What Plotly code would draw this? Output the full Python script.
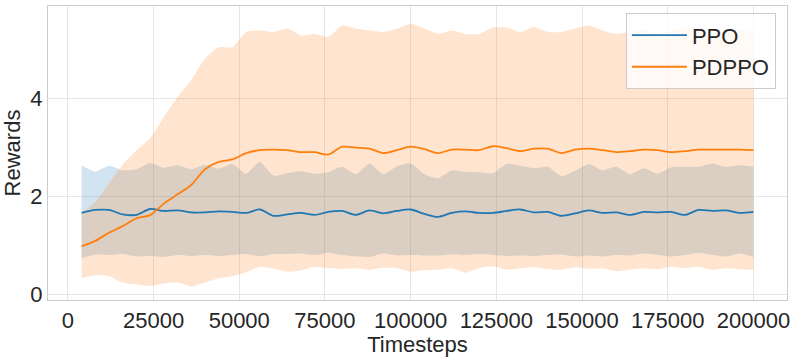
import plotly.graph_objects as go

timesteps = [4000 * k for k in range(1, 51)]

ppo_mean = [1.66, 1.72, 1.72, 1.63, 1.62, 1.74, 1.70, 1.71, 1.67, 1.67,
            1.69, 1.68, 1.66, 1.73, 1.60, 1.63, 1.66, 1.62, 1.68, 1.70,
            1.62, 1.71, 1.65, 1.70, 1.73, 1.64, 1.58, 1.66, 1.69, 1.66,
            1.66, 1.70, 1.73, 1.67, 1.68, 1.60, 1.65, 1.71, 1.66, 1.67,
            1.62, 1.68, 1.67, 1.68, 1.62, 1.72, 1.70, 1.71, 1.66, 1.68]
ppo_upper = [2.63, 2.50, 2.62, 2.53, 2.55, 2.68, 2.58, 2.63, 2.55, 2.64,
             2.56, 2.66, 2.46, 2.70, 2.42, 2.47, 2.51, 2.46, 2.49, 2.60,
             2.45, 2.67, 2.45, 2.61, 2.67, 2.45, 2.37, 2.53, 2.50, 2.49,
             2.47, 2.66, 2.62, 2.57, 2.60, 2.41, 2.52, 2.66, 2.53, 2.60,
             2.45, 2.57, 2.46, 2.59, 2.60, 2.60, 2.67, 2.60, 2.63, 2.60]
ppo_lower = [0.73, 0.81, 0.80, 0.82, 0.77, 0.78, 0.76, 0.80, 0.78, 0.80,
             0.78, 0.80, 0.82, 0.77, 0.82, 0.82, 0.83, 0.80, 0.85, 0.80,
             0.77, 0.76, 0.83, 0.79, 0.80, 0.79, 0.79, 0.81, 0.80, 0.82,
             0.80, 0.78, 0.79, 0.78, 0.80, 0.81, 0.77, 0.79, 0.77, 0.80,
             0.79, 0.83, 0.80, 0.77, 0.80, 0.84, 0.80, 0.77, 0.83, 0.76]

pdppo_mean = [0.98, 1.09, 1.255, 1.39, 1.55, 1.615, 1.85, 2.04, 2.23, 2.55,
              2.70, 2.75, 2.88, 2.94, 2.95, 2.94, 2.90, 2.90, 2.85, 3.01,
              2.99, 2.97, 2.88, 2.94, 3.01, 2.96, 2.88, 2.95, 2.95, 2.94,
              3.02, 2.98, 2.92, 2.97, 2.97, 2.88, 2.95, 2.97, 2.94, 2.90,
              2.92, 2.95, 2.94, 2.90, 2.92, 2.95, 2.95, 2.95, 2.95, 2.94]
pdppo_upper = [1.66, 1.89, 2.26, 2.65, 2.94, 3.18, 3.62, 4.02, 4.37, 4.81,
               5.04, 5.04, 5.35, 5.38, 5.35, 5.42, 5.28, 5.31, 5.25, 5.48,
               5.42, 5.38, 5.35, 5.42, 5.52, 5.42, 5.31, 5.38, 5.31, 5.31,
               5.44, 5.44, 5.35, 5.45, 5.35, 5.35, 5.42, 5.48, 5.38, 5.31,
               5.36, 5.40, 5.33, 5.38, 5.42, 5.35, 5.30, 5.38, 5.40, 5.35]
pdppo_lower = [0.33, 0.39, 0.37, 0.24, 0.20, 0.17, 0.22, 0.24, 0.16, 0.24,
               0.33, 0.37, 0.45, 0.56, 0.52, 0.46, 0.49, 0.56, 0.53, 0.52,
               0.53, 0.50, 0.54, 0.53, 0.46, 0.49, 0.50, 0.53, 0.44, 0.53,
               0.57, 0.50, 0.53, 0.55, 0.51, 0.50, 0.55, 0.52, 0.53, 0.47,
               0.50, 0.53, 0.51, 0.56, 0.53, 0.56, 0.50, 0.53, 0.51, 0.50]

x_ticks = [0, 25000, 50000, 75000, 100000, 125000, 150000, 175000, 200000]
y_ticks = [0, 2, 4]

series = [
    ("PPO", ppo_mean, ppo_lower, ppo_upper, "#1f77b4", "rgba(31,119,180,0.2)"),
    ("PDPPO", pdppo_mean, pdppo_lower, pdppo_upper, "#ff7f0e", "rgba(255,127,14,0.2)"),
]

FONT = "Liberation Sans, Arial, sans-serif"
TEXT = "#262626"

fig = go.Figure()
# bands first (below all lines, like matplotlib zorder)
for name, mean, lo, hi, color, fill in series:
    fig.add_trace(go.Scatter(
        x=timesteps, y=lo, mode="lines",
        line=dict(width=0, shape="spline", smoothing=0.6),
        hoverinfo="skip", showlegend=False))
    fig.add_trace(go.Scatter(
        x=timesteps, y=hi, mode="lines", fill="tonexty", fillcolor=fill,
        line=dict(width=0, shape="spline", smoothing=0.6),
        hoverinfo="skip", showlegend=False))
for name, mean, lo, hi, color, fill in series:
    fig.add_trace(go.Scatter(
        x=timesteps, y=mean, mode="lines", name=name,
        line=dict(color=color, width=1.8, shape="spline", smoothing=0.8)))

axis_common = dict(
    showline=True, linecolor="#cccccc", linewidth=1.25, mirror=True,
    showgrid=True, gridcolor="#e6e6e6", gridwidth=1, zeroline=False,
    ticks="", automargin=False,
    tickfont=dict(size=22, color=TEXT, family=FONT),
)
fig.update_xaxes(range=[-5800, 209800], tickvals=x_ticks,
                 ticktext=[str(v) for v in x_ticks],
                 title=dict(text="Timesteps", font=dict(size=22, color=TEXT, family=FONT)),
                 **axis_common)
fig.update_yaxes(range=[-0.116, 5.88], tickvals=y_ticks,
                 ticktext=[str(v) for v in y_ticks],
                 title=dict(text="Rewards", font=dict(size=22, color=TEXT, family=FONT)),
                 **axis_common)

fig.update_layout(
    width=797, height=357,
    margin=dict(l=48, r=10, t=6, b=57),
    paper_bgcolor="white", plot_bgcolor="white",
    font=dict(family=FONT, color=TEXT),
    legend=dict(x=0.985, xanchor="right", y=0.975, yanchor="top",
                traceorder="normal", itemwidth=55,
                bgcolor="rgba(255,255,255,0.8)", bordercolor="#cccccc", borderwidth=1,
                font=dict(size=22, color=TEXT, family=FONT)),
)

fig.write_html("out.html", config={"displayModeBar": False},
               post_script="document.body.style.margin='0';document.body.style.padding='0';")
